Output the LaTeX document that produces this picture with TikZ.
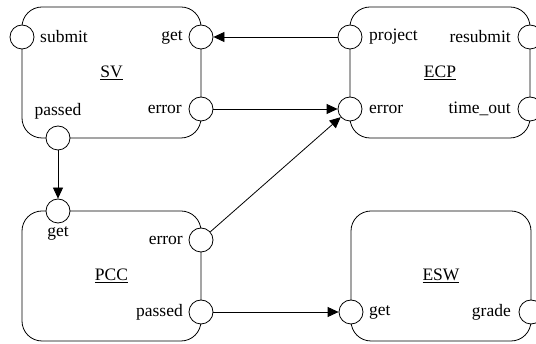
\documentclass[tikz,border=0pt]{standalone}
\usepackage{fontspec}
\setmainfont{Liberation Serif}
\usetikzlibrary{arrows.meta}
\begin{document}
\begin{tikzpicture}[x=1pt,y=-1pt,font=\rmfamily\fontsize{17.5}{20}\selectfont,
  box/.style={draw,line width=0.8pt,rounded corners=20pt,inner sep=0pt},
  port/.style={circle,draw,fill=white,minimum size=24pt,inner sep=0pt,line width=0.8pt},
  lbl/.style={inner sep=0pt},
  conn/.style={draw,line width=0.8pt,-{Triangle[length=11pt,width=10pt]}}]
\useasboundingbox (0,0) rectangle (536,344);
% boxes
\node[box,minimum width=179pt,minimum height=131pt] (SV) at (111.5,72.5) {\underline{SV}};
\node[box,minimum width=180pt,minimum height=131pt] (ECP) at (440,72.5) {\underline{ECP}};
\node[box,minimum width=179pt,minimum height=130pt] (PCC) at (111.5,276) {\underline{PCC}};
\node[box,minimum width=180pt,minimum height=130pt] (ESW) at (441,276) {\underline{ESW}};
% ports
\node[port] (SVsubmit) at (22,37) {};
\node[port] (SVget) at (201,37) {};
\node[port] (SVerror) at (201,109) {};
\node[port] (SVpassed) at (58,138) {};
\node[port] (ECPproject) at (350,37) {};
\node[port] (ECPerror) at (350,109) {};
\node[port] (ECPresubmit) at (530,37) {};
\node[port] (ECPtimeout) at (530,109) {};
\node[port] (PCCget) at (58,211) {};
\node[port] (PCCerror) at (201,240) {};
\node[port] (PCCpassed) at (201,312) {};
\node[port] (ESWget) at (351,312) {};
\node[port] (ESWgrade) at (531,312) {};
% labels
\node[lbl,anchor=west] (lsubmit) at (40,37) {submit};
\node[lbl,anchor=east] (lsvget) at (183,37) {get};
\node[lbl,anchor=east] (lsverror) at (182,109) {error};
\node[lbl] (lsvpassed) at (58,111) {passed};
\node[lbl,anchor=west] (lproject) at (369,37) {project};
\node[lbl,anchor=west] (lecperror) at (369,109) {error};
\node[lbl,anchor=east] (lresubmit) at (511,37) {resubmit};
\node[lbl,anchor=east] (ltimeout) at (511,109) {time\_out};
\node[lbl] (lpccget) at (58,233) {get};
\node[lbl,anchor=east] (lpccerror) at (183,240) {error};
\node[lbl,anchor=east] (lpccpassed) at (183,312) {passed};
\node[lbl,anchor=west] (leswget) at (369,312) {get};
\node[lbl,anchor=east] (lgrade) at (511,312) {grade};
% connectors
\draw[conn] (ECPproject) -- (SVget);
\draw[conn] (SVerror) -- (ECPerror);
\draw[conn] (PCCerror) -- (ECPerror);
\draw[conn] (SVpassed) -- (PCCget);
\draw[conn] (PCCpassed) -- (ESWget);
\end{tikzpicture}
\end{document}
